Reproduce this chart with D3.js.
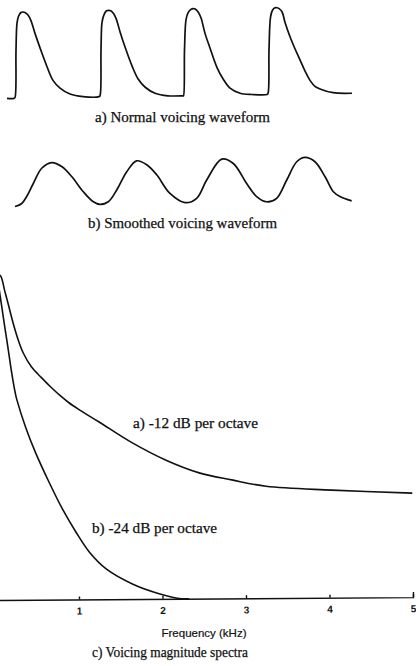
<!DOCTYPE html>
<html>
<head>
<meta charset="utf-8">
<script src="https://cdn.jsdelivr.net/npm/d3@7"></script>
<style>
  body { margin: 0; background: #fff; }
  svg { display: block; }
  .cap { font-family: "Liberation Serif", "Times New Roman", serif; font-size: 14.5px; fill: #111; stroke: #111; stroke-width: 0.25px; }
  .axis text { font-family: "Liberation Sans", Arial, sans-serif; font-size: 10px; font-weight: bold; fill: #111; }
</style>
</head>
<body>
<div id="chart"></div>
<script>
// a) normal voicing waveform, time in ms, amplitude relative to peak
var normalT   = [-0.95, -0.12, 0, 0.12, 0.24, 0.42, 0.71, 0.95, 1.19, 1.55, 1.9, 2.38, 2.98, 3.81, 4.52, 5.36, 6.55, 8.1, 10.0,
                 10.12, 10.24, 10.36, 10.6, 10.9, 11.15, 11.4, 11.75, 12.05, 12.5, 13.1, 13.93, 14.64, 15.5, 16.67, 18.2, 20.0,
                 20.06, 20.18, 20.36, 20.6, 20.95, 21.2, 21.45, 21.8, 22.15, 22.62, 23.21, 24.05, 24.76, 25.6, 26.8, 28.2, 30.0,
                 30.12, 30.24, 30.42, 30.65, 30.95, 31.2, 31.45, 31.8, 32.14, 32.74, 33.33, 33.93, 34.52, 35.12, 35.71, 36.31, 37.86, 40.12];
var normalAmp = [-0.01, -0.01, 0.0, 0.56, 0.87, 0.95, 0.995, 1.0, 0.995, 0.965, 0.9, 0.75, 0.58, 0.36, 0.2, 0.11, 0.04, 0.01, 0.01,
                 0.02, 0.56, 0.88, 0.97, 1.015, 1.02, 1.015, 0.98, 0.92, 0.77, 0.59, 0.37, 0.22, 0.12, 0.05, 0.02, 0.02,
                 0.02, 0.56, 0.91, 0.99, 1.03, 1.04, 1.035, 1.0, 0.93, 0.75, 0.58, 0.35, 0.22, 0.11, 0.05, 0.035, 0.035,
                 0.047, 0.56, 0.94, 1.02, 1.05, 1.05, 1.04, 1.0, 0.88, 0.71, 0.57, 0.44, 0.31, 0.2, 0.13, 0.1, 0.056, 0.05];

// b) smoothed voicing waveform
var smoothT   = [0, 0.8, 1.39, 2.18, 3.18, 4.37, 5.56, 6.75, 8.13, 9.32, 10.12, 11.11, 12.11, 13.3, 14.49, 15.68, 16.87,
                 18.45, 20.24, 21.63, 22.82, 24.61, 25.99, 27.58, 28.77, 29.96, 31.15, 32.35, 33.54, 34.52, 35.71,
                 36.9, 37.9, 38.69, 40.08];
var smoothAmp = [-0.07, 0.0, 0.16, 0.46, 0.81, 0.94, 0.85, 0.62, 0.27, 0.04, -0.02, 0.04, 0.31, 0.73, 0.98, 0.89, 0.66,
                 0.23, 0.02, 0.12, 0.54, 1.02, 0.92, 0.46, 0.16, 0.04, 0.12, 0.54, 0.96, 1.06, 0.96,
                 0.62, 0.27, 0.16, 0.06];

// c) voicing magnitude spectra, frequency in kHz
var specFreqA = [0, 0.054, 0.093, 0.134, 0.174, 0.234, 0.293, 0.353, 0.449, 0.569, 0.689, 0.796, 0.892, 1.012, 1.251, 1.647, 2.054, 2.45, 2.84, 3.25, 4.04, 5.0];
var specAmpA  = [1.0, 0.99, 0.98, 0.939, 0.9, 0.839, 0.788, 0.748, 0.706, 0.673, 0.642, 0.617, 0.597, 0.576, 0.538, 0.474, 0.42, 0.381, 0.359, 0.339, 0.326, 0.315];
var specFreqB = [0.054, 0.093, 0.134, 0.174, 0.213, 0.254, 0.273, 0.374, 0.493, 0.653, 0.812, 0.972, 1.132, 1.332, 1.647, 1.97, 2.23, 2.32];
var specAmpB  = [0.97, 0.9, 0.827, 0.758, 0.688, 0.627, 0.606, 0.524, 0.445, 0.355, 0.273, 0.203, 0.142, 0.091, 0.045, 0.015, 0.0, 0.0];
var freqTicks = [1, 2, 3, 4, 5];

var W = 416, H = 666;
var svg = d3.select("#chart").append("svg").attr("width", W).attr("height", H);
svg.append("rect").attr("width", W).attr("height", H).attr("fill", "#fff");

var zipper = function(xs, ys) { return xs.map(function(v, i) { return [v, ys[i]]; }); };
var smooth = d3.curveCatmullRom.alpha(0.5);

// shared time axis for the two waveforms
var xT = d3.scaleLinear().domain([0, 40]).range([15, 351]);

// panel a
var yA = d3.scaleLinear().domain([0, 1]).range([97.5, 12]);
var lineA = d3.line().x(function(d) { return xT(d[0]); }).y(function(d) { return yA(d[1]); }).curve(smooth);
svg.append("path")
  .datum(zipper(normalT, normalAmp))
  .attr("d", lineA)
  .attr("fill", "none").attr("stroke", "#111").attr("stroke-width", 1.7);
svg.append("text").attr("class", "cap")
  .attr("x", 95).attr("y", 122)
  .attr("textLength", 175).attr("lengthAdjust", "spacingAndGlyphs")
  .text("a) Normal voicing waveform");

// panel b
var yB = d3.scaleLinear().domain([0, 1]).range([203.5, 160]);
var lineB = d3.line().x(function(d) { return xT(d[0]); }).y(function(d) { return yB(d[1]); }).curve(smooth);
svg.append("path")
  .datum(zipper(smoothT, smoothAmp))
  .attr("d", lineB)
  .attr("fill", "none").attr("stroke", "#111").attr("stroke-width", 1.7);
svg.append("text").attr("class", "cap")
  .attr("x", 88).attr("y", 228)
  .attr("textLength", 189).attr("lengthAdjust", "spacingAndGlyphs")
  .text("b) Smoothed voicing waveform");

// panel c, slightly tilted like the scan
var gC = svg.append("g").attr("transform", "rotate(-0.4, 0, 600)");
var xF = d3.scaleLinear().domain([0, 5]).range([-4.5, 413]);
var yM = d3.scaleLinear().domain([0, 1]).range([600, 270]);
var lineC = d3.line().x(function(d) { return xF(d[0]); }).y(function(d) { return yM(d[1]); }).curve(smooth);

var axis = gC.append("g").attr("class", "axis")
  .attr("transform", "translate(0," + yM(0) + ")")
  .call(d3.axisBottom(xF).tickValues(freqTicks).tickFormat(d3.format("d"))
        .tickSizeInner(-3).tickSizeOuter(-5).tickPadding(8));
axis.selectAll("path, line").attr("stroke", "#111").attr("stroke-width", 1.4);

gC.append("path").datum(zipper(specFreqA, specAmpA)).attr("d", lineC)
  .attr("fill", "none").attr("stroke", "#111").attr("stroke-width", 1.6);
gC.append("path").datum(zipper(specFreqB, specAmpB)).attr("d", lineC)
  .attr("fill", "none").attr("stroke", "#111").attr("stroke-width", 1.6);

svg.append("text").attr("class", "cap")
  .attr("x", 133).attr("y", 428)
  .attr("textLength", 125).attr("lengthAdjust", "spacingAndGlyphs")
  .text("a) -12 dB per octave");
svg.append("text").attr("class", "cap")
  .attr("x", 92).attr("y", 533)
  .attr("textLength", 125).attr("lengthAdjust", "spacingAndGlyphs")
  .text("b) -24 dB per octave");
svg.append("text")
  .attr("x", 204).attr("y", 637).attr("text-anchor", "middle")
  .attr("font-family", "Liberation Sans, Arial, sans-serif").attr("font-size", 11).attr("fill", "#111")
  .attr("stroke", "#111").attr("stroke-width", 0.2)
  .attr("textLength", 85).attr("lengthAdjust", "spacingAndGlyphs")
  .text("Frequency (kHz)");
svg.append("text").attr("class", "cap")
  .attr("x", 92).attr("y", 657)
  .attr("textLength", 156).attr("lengthAdjust", "spacingAndGlyphs")
  .text("c) Voicing magnitude spectra");
</script>
</body>
</html>
